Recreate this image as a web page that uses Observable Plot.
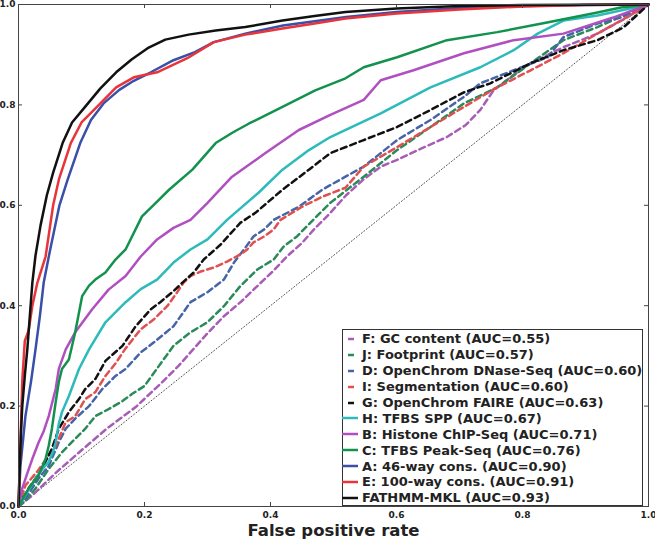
<!DOCTYPE html>
<html>
<head>
<meta charset="utf-8">
<script src="https://cdn.jsdelivr.net/npm/d3@7"></script>
<script src="https://cdn.jsdelivr.net/npm/@observablehq/plot@0.6"></script>
<style>
  body { margin: 0; background: #fff; }
  #wrap { position: relative; width: 655px; height: 542px; font-family: "DejaVu Sans", sans-serif; }
  #legend { position: absolute; left: 342px; top: 329px; width: 299px; height: 174px; border: 1px solid #333; background: #fff; box-sizing: content-box; padding-top: 1px; }
  .row { height: 15.9px; display: flex; align-items: center; font-weight: bold; font-size: 13px; color: #222; white-space: nowrap; }
  .row svg { flex: none; width: 20px; height: 10px; margin-left: -1px; }
</style>
</head>
<body>
<div id="wrap"><div id="chart"></div><div id="legend"></div></div>
<script>
// ---- data: [false positive rate, true positive rate] ----
const gcContent = [[0,0],[0.02,0.02],[0.06,0.068],[0.1,0.112],[0.14,0.155],[0.186,0.198],[0.225,0.244],[0.254,0.28],[0.273,0.307],[0.3,0.345],[0.326,0.379],[0.355,0.41],[0.379,0.439],[0.405,0.47],[0.426,0.498],[0.45,0.525],[0.469,0.552],[0.495,0.585],[0.52,0.62],[0.548,0.652],[0.575,0.677],[0.6,0.69],[0.627,0.706],[0.68,0.736],[0.71,0.76],[0.733,0.79],[0.754,0.829],[0.786,0.86],[0.813,0.883],[0.865,0.915],[0.919,0.942],[0.96,0.97],[1,1]];
const footprint = [[0,0],[0.01,0.01],[0.027,0.036],[0.048,0.075],[0.069,0.108],[0.09,0.135],[0.106,0.155],[0.122,0.18],[0.143,0.194],[0.165,0.21],[0.18,0.224],[0.2,0.24],[0.22,0.275],[0.246,0.32],[0.273,0.347],[0.3,0.367],[0.326,0.399],[0.352,0.439],[0.379,0.472],[0.405,0.492],[0.421,0.518],[0.442,0.538],[0.463,0.565],[0.495,0.605],[0.548,0.657],[0.601,0.71],[0.654,0.756],[0.707,0.803],[0.76,0.835],[0.813,0.883],[0.865,0.929],[0.919,0.955],[1,1]];
const dnase = [[0,0],[0.011,0.016],[0.032,0.056],[0.048,0.081],[0.064,0.128],[0.075,0.155],[0.09,0.175],[0.112,0.2],[0.133,0.234],[0.154,0.26],[0.17,0.274],[0.194,0.307],[0.215,0.327],[0.246,0.359],[0.273,0.407],[0.3,0.427],[0.326,0.452],[0.342,0.486],[0.358,0.512],[0.373,0.538],[0.39,0.552],[0.405,0.571],[0.445,0.597],[0.482,0.631],[0.519,0.657],[0.548,0.677],[0.601,0.73],[0.654,0.77],[0.707,0.816],[0.733,0.843],[0.786,0.869],[0.84,0.895],[0.865,0.935],[0.919,0.962],[0.956,0.974],[1,1]];
const segmentation = [[0,0],[0.011,0.042],[0.03,0.07],[0.059,0.121],[0.075,0.168],[0.09,0.18],[0.106,0.214],[0.122,0.228],[0.138,0.26],[0.154,0.285],[0.17,0.315],[0.194,0.353],[0.215,0.373],[0.236,0.399],[0.252,0.427],[0.262,0.446],[0.273,0.459],[0.289,0.468],[0.31,0.476],[0.331,0.488],[0.352,0.502],[0.363,0.512],[0.373,0.526],[0.39,0.538],[0.405,0.552],[0.416,0.571],[0.45,0.597],[0.482,0.617],[0.519,0.635],[0.548,0.677],[0.601,0.716],[0.654,0.756],[0.707,0.796],[0.76,0.835],[0.813,0.869],[0.865,0.903],[0.919,0.942],[0.956,0.968],[1,1]];
const faire = [[0,0],[0.016,0.036],[0.035,0.07],[0.053,0.115],[0.064,0.155],[0.08,0.188],[0.096,0.214],[0.106,0.234],[0.122,0.254],[0.138,0.29],[0.165,0.32],[0.186,0.359],[0.21,0.393],[0.225,0.407],[0.246,0.429],[0.262,0.448],[0.278,0.466],[0.294,0.492],[0.321,0.522],[0.352,0.565],[0.376,0.585],[0.419,0.631],[0.461,0.671],[0.495,0.704],[0.548,0.73],[0.601,0.756],[0.654,0.79],[0.707,0.825],[0.749,0.843],[0.813,0.883],[0.865,0.909],[0.919,0.929],[0.96,0.954],[1,1]];
const tfbsSpp = [[0,0],[0.01,0.02],[0.027,0.056],[0.038,0.075],[0.048,0.089],[0.055,0.11],[0.059,0.128],[0.064,0.165],[0.069,0.188],[0.08,0.22],[0.096,0.274],[0.112,0.313],[0.138,0.367],[0.17,0.407],[0.194,0.433],[0.22,0.452],[0.246,0.486],[0.273,0.512],[0.3,0.532],[0.331,0.571],[0.381,0.625],[0.419,0.671],[0.461,0.71],[0.495,0.736],[0.575,0.783],[0.654,0.835],[0.733,0.875],[0.786,0.909],[0.824,0.942],[0.865,0.968],[0.919,0.978],[1,1]];
const histone = [[0,0],[0.006,0.036],[0.015,0.07],[0.022,0.095],[0.032,0.128],[0.04,0.15],[0.048,0.18],[0.059,0.234],[0.064,0.274],[0.075,0.313],[0.09,0.347],[0.117,0.393],[0.143,0.432],[0.17,0.459],[0.194,0.498],[0.22,0.532],[0.246,0.555],[0.273,0.571],[0.3,0.605],[0.339,0.657],[0.392,0.704],[0.445,0.75],[0.495,0.78],[0.548,0.81],[0.575,0.849],[0.627,0.869],[0.707,0.903],[0.786,0.929],[0.865,0.942],[0.944,0.974],[1,1]];
const tfbsPeak = [[0,0],[0.016,0.036],[0.032,0.062],[0.043,0.095],[0.048,0.121],[0.053,0.155],[0.059,0.208],[0.064,0.248],[0.069,0.274],[0.08,0.293],[0.09,0.347],[0.101,0.419],[0.112,0.44],[0.122,0.452],[0.138,0.466],[0.154,0.492],[0.17,0.512],[0.196,0.578],[0.218,0.605],[0.239,0.631],[0.276,0.671],[0.313,0.724],[0.34,0.745],[0.366,0.763],[0.419,0.796],[0.471,0.829],[0.519,0.853],[0.548,0.875],[0.601,0.895],[0.68,0.929],[0.76,0.945],[0.839,0.964],[0.919,0.984],[0.956,0.994],[1,1]];
const cons46 = [[0,0],[0.003,0.08],[0.011,0.18],[0.02,0.25],[0.027,0.313],[0.034,0.38],[0.04,0.446],[0.05,0.51],[0.065,0.6],[0.078,0.651],[0.098,0.724],[0.115,0.77],[0.135,0.803],[0.16,0.83],[0.183,0.848],[0.21,0.865],[0.246,0.889],[0.28,0.905],[0.31,0.925],[0.36,0.942],[0.42,0.958],[0.52,0.975],[0.6,0.985],[0.7,0.993],[0.8,0.997],[0.9,0.999],[1,1]];
const cons100 = [[0,0],[0.003,0.12],[0.006,0.25],[0.01,0.33],[0.016,0.35],[0.022,0.4],[0.03,0.446],[0.043,0.498],[0.055,0.6],[0.064,0.651],[0.083,0.724],[0.1,0.765],[0.13,0.803],[0.155,0.835],[0.183,0.855],[0.22,0.865],[0.268,0.893],[0.31,0.925],[0.36,0.94],[0.419,0.952],[0.47,0.962],[0.519,0.972],[0.6,0.982],[0.7,0.99],[0.8,0.996],[0.9,0.999],[1,1]];
const fathmm = [[0,0],[0.002,0.08],[0.004,0.15],[0.006,0.2],[0.01,0.26],[0.014,0.313],[0.018,0.38],[0.022,0.446],[0.027,0.5],[0.035,0.56],[0.045,0.62],[0.055,0.665],[0.07,0.724],[0.085,0.765],[0.105,0.795],[0.13,0.833],[0.155,0.865],[0.18,0.891],[0.205,0.913],[0.233,0.93],[0.27,0.94],[0.313,0.948],[0.36,0.955],[0.419,0.968],[0.47,0.977],[0.519,0.985],[0.6,0.992],[0.7,0.997],[0.8,0.999],[1,1]];
const chance = [[0,0],[1,1]];

const seriesNames = ["F: GC content (AUC=0.55)","J: Footprint (AUC=0.57)","D: OpenChrom DNase-Seq (AUC=0.60)","I: Segmentation (AUC=0.60)","G: OpenChrom FAIRE (AUC=0.63)","H: TFBS SPP (AUC=0.67)","B: Histone ChIP-Seq (AUC=0.71)","C: TFBS Peak-Seq (AUC=0.76)","A: 46-way cons. (AUC=0.90)","E: 100-way cons. (AUC=0.91)","FATHMM-MKL (AUC=0.93)"];
const seriesData = [gcContent, footprint, dnase, segmentation, faire, tfbsSpp, histone, tfbsPeak, cons46, cons100, fathmm];
const seriesColors = ["#a85db5","#2a8a5a","#4565a8","#e05050","#111111","#2cbaba","#b050c0","#12924e","#3a4fa8","#e8343a","#111111"];
const seriesDashed = [true,true,true,true,true,false,false,false,false,false,false];
const tickValues = [0,0.2,0.4,0.6,0.8,1.0];
const xLabel = "False positive rate";

const W = 655, Hh = 542, mt = 4, mb = 36, ml = 18, mr = 7;
const innerH = Hh - mt - mb, innerW = W - ml - mr, tl = 4;
const fmt = d3.format(".1f");

const marks = [
  Plot.line(chance, {x: d => d[0], y: d => d[1], stroke: "#222", strokeWidth: 0.8, strokeDasharray: "1,2.2"})
];
seriesData.forEach((data, i) => {
  marks.push(Plot.line(data, {x: d => d[0], y: d => d[1], stroke: seriesColors[i], strokeWidth: 2.5,
    strokeDasharray: seriesDashed[i] ? "6,4" : null, strokeLinejoin: "round"}));
});
marks.push(
  Plot.frame({stroke: "#444", strokeWidth: 1}),
  Plot.tickX(tickValues, {x: d => d, insetTop: innerH - tl, stroke: "#444"}),
  Plot.tickX(tickValues, {x: d => d, insetBottom: innerH - tl, stroke: "#444"}),
  Plot.tickY(tickValues, {y: d => d, insetRight: innerW - tl, stroke: "#444"}),
  Plot.tickY(tickValues, {y: d => d, insetLeft: innerW - tl, stroke: "#444"}),
  Plot.axisX(tickValues, {anchor: "bottom", tickSize: 0, tickPadding: 5, tickFormat: fmt, label: null}),
  Plot.axisY(tickValues, {anchor: "left", tickSize: 0, tickPadding: 3, tickFormat: fmt, label: null}),
  Plot.text([xLabel], {frameAnchor: "bottom", dy: 29, fontSize: 16.5, fontWeight: "bold", fill: "#222"})
);

const chart = Plot.plot({
  width: W, height: Hh,
  marginTop: mt, marginBottom: mb, marginLeft: ml, marginRight: mr,
  x: {domain: [0, 1]},
  y: {domain: [0, 1]},
  style: {fontFamily: "DejaVu Sans", fontSize: "9px", fontWeight: "bold", color: "#222", background: "#fff", overflow: "visible"},
  marks
});
document.getElementById("chart").appendChild(chart);

const legend = document.getElementById("legend");
seriesNames.forEach((name, i) => {
  const row = document.createElement("div");
  row.className = "row";
  const x1 = seriesDashed[i] ? 6 : 0, x2 = seriesDashed[i] ? 12 : 16;
  row.innerHTML = `<svg viewBox="0 0 20 10"><line x1="${x1}" x2="${x2}" y1="5" y2="5" stroke="${seriesColors[i]}" stroke-width="2.5"/></svg><span>${name}</span>`;
  legend.appendChild(row);
});
</script>
</body>
</html>
